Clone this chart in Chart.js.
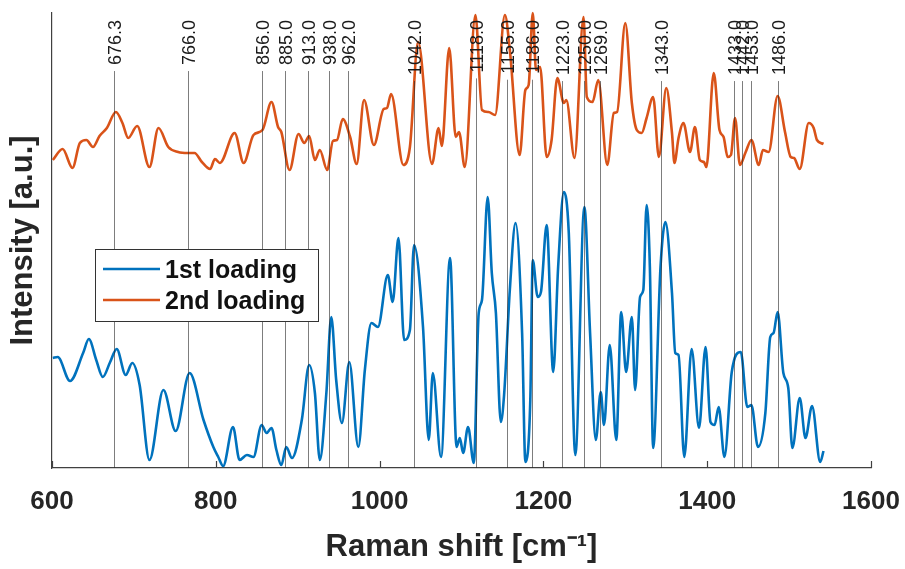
<!DOCTYPE html>
<html>
<head>
<meta charset="utf-8">
<script src="https://cdn.jsdelivr.net/npm/chart.js@4/dist/chart.umd.min.js"></script>
<style>
  html, body { margin: 0; padding: 0; background: #fff; }
  canvas { display: block; }
</style>
</head>
<body>
<canvas id="ramanChart" width="905" height="569"></canvas>
<script>
// x values (Raman shift, cm-1) and heights of the two loadings
const loading1Shift = [601, 607, 622, 638, 645, 654, 662, 671, 679, 690, 698, 707, 719, 736, 751, 768, 785, 797, 803, 809,
  821, 829, 838, 846, 856, 862, 868, 874, 880, 886, 893, 905, 914, 921, 927, 935, 941, 947, 954, 963,
  974, 982, 990, 998, 1010, 1016, 1023, 1030, 1037, 1042, 1053, 1060, 1065, 1075, 1086, 1094, 1098, 1102, 1108, 1115,
  1121, 1125, 1132, 1137, 1142, 1148, 1152, 1159, 1166, 1174, 1178, 1184, 1187, 1193, 1197, 1204, 1212, 1218, 1225, 1231,
  1239, 1250, 1257, 1264, 1270, 1274, 1281, 1289, 1295, 1301, 1308, 1312, 1318, 1322, 1326, 1330, 1334, 1343, 1349, 1357,
  1361, 1365, 1372, 1381, 1390, 1398, 1404, 1409, 1414, 1421, 1430, 1441, 1449, 1454, 1462, 1471, 1477, 1481, 1486, 1493,
  1499, 1504, 1513, 1520, 1528, 1538, 1542];
const loading1Values = [110, 111, 87, 115, 129, 108, 91, 106, 119, 93, 105, 83, 8, 78, 37, 95, 48, 21, 11, 2,
  41, 8, 13, 11, 43, 35, 40, 18, 3, 21, 10, 48, 103, 75, 8, 75, 151, 88, 45, 106,
  21, 98, 145, 141, 193, 166, 230, 128, 138, 223, 141, 28, 95, 11, 210, 21, 30, 15, 41, 5,
  155, 168, 271, 195, 155, 46, 73, 178, 245, 135, 6, 68, 208, 171, 176, 243, 96, 201, 276, 235,
  13, 261, 135, 28, 76, 43, 123, 28, 156, 96, 151, 78, 171, 178, 263, 201, 20, 201, 246, 175,
  115, 113, 11, 119, 40, 121, 46, 43, 61, 11, 96, 116, 61, 63, 21, 55, 131, 135, 156, 95,
  80, 20, 70, 30, 62, 6, 17];

const loading2Shift = [601, 613, 625, 634, 642, 650, 658, 667, 678, 686, 693, 704, 719, 730, 742, 754, 766, 774, 783, 793,
  799, 805, 823, 834, 846, 857, 868, 876, 880, 890, 901, 908, 914, 921, 927, 936, 943, 948, 955, 964,
  972, 981, 993, 1005, 1009, 1014, 1029, 1037, 1047, 1064, 1072, 1076, 1085, 1093, 1097, 1104, 1117, 1125, 1133, 1141,
  1153, 1159, 1171, 1178, 1182, 1187, 1191, 1196, 1204, 1210, 1217, 1225, 1228, 1238, 1249, 1253, 1260, 1267, 1278, 1286,
  1290, 1300, 1308, 1314, 1320, 1326, 1334, 1341, 1350, 1357, 1360, 1365, 1371, 1379, 1385, 1391, 1396, 1399, 1408, 1415,
  1420, 1425, 1429, 1434, 1440, 1447, 1454, 1463, 1468, 1475, 1486, 1495, 1502, 1506, 1513, 1524, 1530, 1534, 1542];
const loading2Values = [308, 319, 300, 325, 328, 321, 332, 340, 356, 345, 330, 342, 301, 340, 321, 316, 315, 315, 306, 299,
  309, 305, 335, 305, 333, 338, 366, 341, 336, 298, 334, 325, 332, 308, 318, 298, 327, 328, 349, 331,
  304, 368, 323, 359, 360, 374, 303, 321, 426, 304, 340, 322, 420, 331, 336, 301, 453, 358, 356, 353,
  453, 418, 313, 378, 383, 455, 398, 401, 311, 328, 390, 365, 368, 310, 451, 371, 366, 388, 303, 355,
  356, 445, 365, 338, 335, 350, 371, 311, 380, 335, 305, 330, 345, 316, 341, 308, 306, 301, 395, 338,
  331, 311, 313, 350, 303, 316, 328, 303, 318, 316, 372, 336, 311, 310, 299, 345, 340, 328, 324];

// marked band positions (cm-1)
const markedPeaks = [676.3, 766, 856, 885, 913, 938, 962, 1042, 1118, 1155, 1186, 1223, 1250, 1269, 1343, 1433, 1442, 1453, 1486];
const xTickValues = [600, 800, 1000, 1200, 1400, 1600];

const FONT = '"Liberation Sans", Arial, Helvetica, sans-serif';
Chart.defaults.font.family = FONT;

const toPoints = (xs, ys) => xs.map((x, i) => ({ x: x, y: ys[i] }));

const peakLines = {
    id: 'peakLines',
    afterDatasetsDraw(chart) {
        const { ctx, chartArea, scales } = chart;
        ctx.save();
        ctx.font = '18px ' + FONT;
        markedPeaks.forEach(p => {
            const px = Math.round(scales.x.getPixelForValue(p)) + 0.5;
            const label = p.toFixed(1);
            const w = ctx.measureText(label).width;
            const textTop = chartArea.top + 7;
            ctx.strokeStyle = 'rgba(38,38,38,0.6)';
            ctx.lineWidth = 1;
            ctx.beginPath();
            ctx.moveTo(px, textTop + w + 6);
            ctx.lineTo(px, chartArea.bottom);
            ctx.stroke();
            ctx.save();
            ctx.translate(px + 1.5, textTop + w);
            ctx.rotate(-Math.PI / 2);
            ctx.textAlign = 'left';
            ctx.textBaseline = 'middle';
            ctx.fillStyle = '#1a1a1a';
            ctx.fillText(label, 0, 0);
            ctx.restore();
        });
        // small inward ticks on the x axis
        ctx.strokeStyle = '#404040';
        ctx.lineWidth = 1.2;
        xTickValues.forEach(v => {
            const px = Math.round(scales.x.getPixelForValue(v)) + 0.5;
            ctx.beginPath();
            ctx.moveTo(px, chartArea.bottom);
            ctx.lineTo(px, chartArea.bottom - 7);
            ctx.stroke();
        });
        ctx.restore();
    }
};

const insetLegend = {
    id: 'insetLegend',
    afterDraw(chart) {
        const { ctx, chartArea } = chart;
        const bx = chartArea.left + 43, by = chartArea.top + 236, bw = 223, bh = 72;
        ctx.save();
        ctx.fillStyle = '#fff';
        ctx.fillRect(bx, by, bw, bh);
        ctx.strokeStyle = '#333';
        ctx.lineWidth = 1;
        ctx.strokeRect(bx + 0.5, by + 0.5, bw, bh);
        ctx.font = 'bold 25px ' + FONT;
        ctx.textBaseline = 'middle';
        chart.data.datasets.forEach((ds, i) => {
            const y = by + 21 + i * 31;
            ctx.strokeStyle = ds.borderColor;
            ctx.lineWidth = 2.6;
            ctx.beginPath();
            ctx.moveTo(bx + 8, y - 1);
            ctx.lineTo(bx + 65, y - 1);
            ctx.stroke();
            ctx.fillStyle = '#111';
            ctx.fillText(ds.label, bx + 70, y + 1);
        });
        ctx.restore();
    }
};

const ctx = document.getElementById('ramanChart').getContext('2d');
new Chart(ctx, {
    type: 'line',
    data: {
        datasets: [{
            label: '1st loading',
            data: toPoints(loading1Shift, loading1Values),
            borderColor: 'rgb(0,114,189)',
            borderWidth: 2.6,
            pointRadius: 0,
            cubicInterpolationMode: 'monotone',
            clip: false
        }, {
            label: '2nd loading',
            data: toPoints(loading2Shift, loading2Values),
            borderColor: 'rgb(217,83,25)',
            borderWidth: 2.6,
            pointRadius: 0,
            cubicInterpolationMode: 'monotone',
            clip: false
        }]
    },
    options: {
        responsive: false,
        animation: false,
        layout: { padding: { top: 13, right: 34, left: 0, bottom: 0 } },
        plugins: {
            legend: { display: false },
            tooltip: { enabled: false }
        },
        scales: {
            x: {
                type: 'linear',
                min: 600,
                max: 1600,
                afterBuildTicks: s => { s.ticks = xTickValues.map(v => ({ value: v })); },
                afterFit: s => { s.height = 101; s.paddingLeft = 0; s.paddingRight = 0; },
                ticks: {
                    color: '#262626',
                    padding: 18,
                    maxRotation: 0,
                    font: { size: 26, weight: 'bold' },
                    callback: v => String(v)
                },
                grid: { display: false, drawTicks: false },
                border: { display: true, color: '#404040', width: 1.2 },
                title: {
                    display: true,
                    text: 'Raman shift [cm⁻¹]',
                    color: '#262626',
                    font: { size: 31, weight: 'bold' },
                    padding: { top: 0, bottom: 3 }
                }
            },
            y: {
                min: 0,
                max: 455,
                afterFit: s => { s.width = 52; },
                ticks: { display: false },
                grid: { display: false, drawTicks: false },
                border: { display: true, color: '#404040', width: 1.2 },
                title: {
                    display: true,
                    text: 'Intensity [a.u.]',
                    color: '#262626',
                    font: { size: 31, weight: 'bold' },
                    padding: { top: 5, bottom: 0 }
                }
            }
        }
    },
    plugins: [peakLines, insetLegend]
});
</script>
</body>
</html>
